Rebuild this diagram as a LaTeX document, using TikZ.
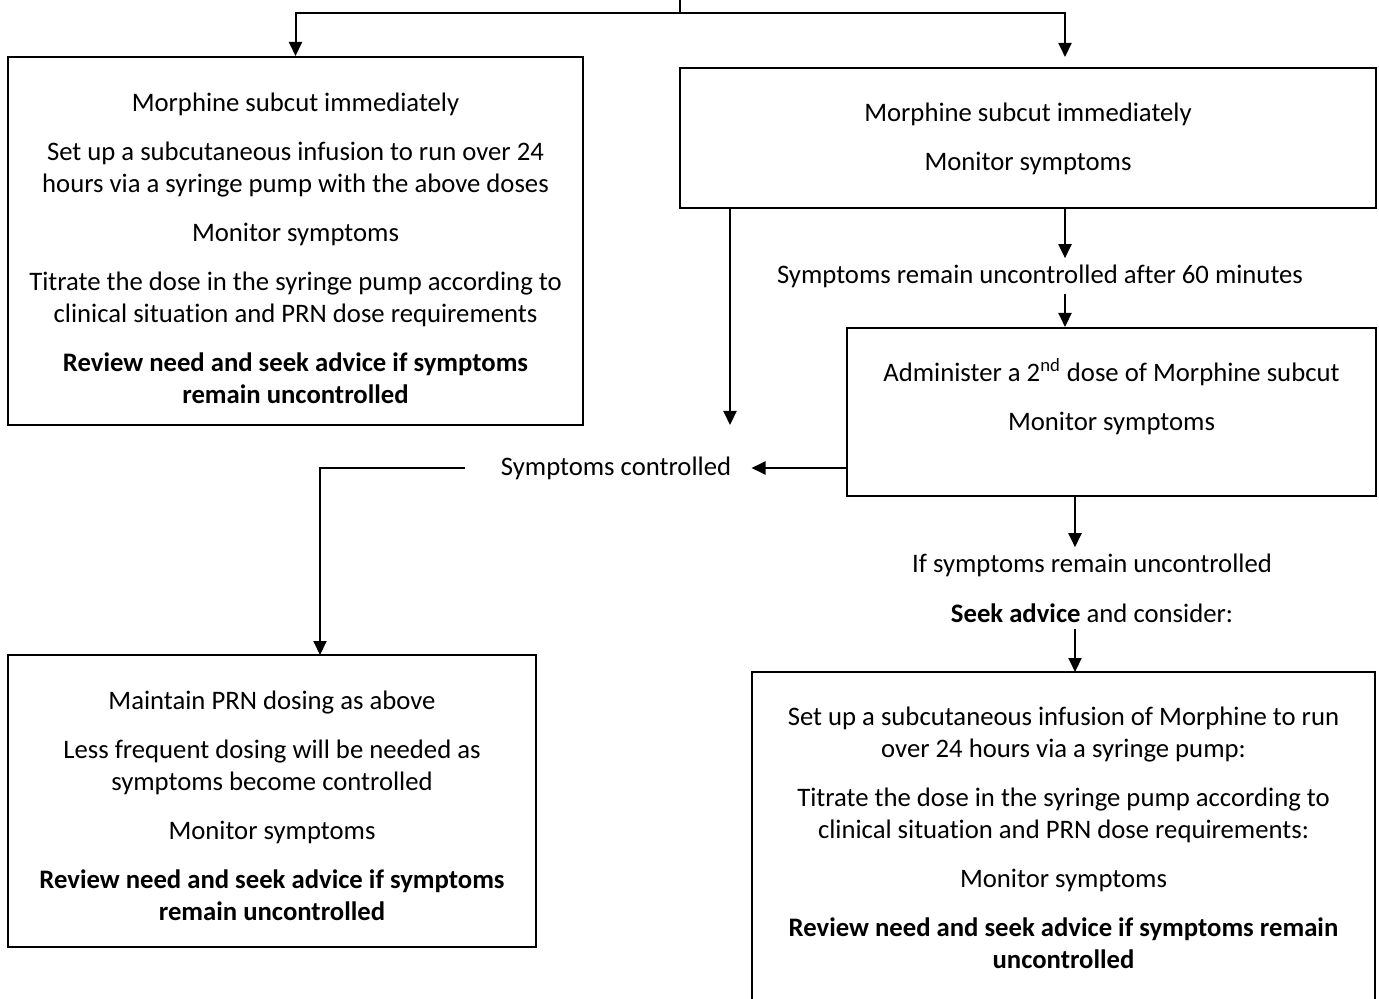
\documentclass[tikz,border=0pt]{standalone}
\usepackage{fontspec}
\setmainfont{Carlito}[Ligatures=NoCommon]
\usetikzlibrary{arrows.meta, positioning, fit, calc}
\tikzset{
  box/.style={rectangle, draw=black, line width=1pt, inner sep=0pt},
  boxtext/.style={align=flush center, inner sep=0pt, font=\fontsize{13.35}{16}\selectfont},
  flowtext/.style={align=center, inner sep=3pt, font=\fontsize{13.35}{16}\selectfont},
  arrow/.style={line width=1pt, -{Triangle[length=7pt,width=6.5pt]}},
  link/.style={line width=1pt}
}

\begin{document}
\begin{tikzpicture}[x=0.5pt, y=-0.5pt]
\useasboundingbox (0,0) rectangle (1379,999);
\clip (0,0) rectangle (1379,999);

% boxes
\node[box, fit={(8,57) (583,425)}] (a) {};
\node[box, fit={(680,68) (1376,208)}] (b) {};
\node[box, fit={(847,328) (1376,496)}] (c) {};
\node[box, fit={(8,655) (536,947)}] (d) {};
\node[box, fit={(752,672) (1375,1012)}] (e) {};

% box texts
\node[boxtext, text width=280pt, below=18.5pt of a.north] (at) {Morphine subcut immediately\\[8.5pt]
  Set up a subcutaneous infusion to run over 24\\hours via a syringe pump with the above doses\\[8.5pt]
  Monitor symptoms\\[8.5pt]
  Titrate the dose in the syringe pump according to\\clinical situation and PRN dose requirements\\[8.5pt]
  \bfseries Review need and seek advice if symptoms\\remain uncontrolled};
\node[boxtext, text width=300pt, below=18pt of b.north] (bt) {Morphine subcut immediately\\[8.5pt]
  Monitor symptoms};
\node[boxtext, text width=250pt, below=15.5pt of c.north] (ct) {Administer a 2\textsuperscript{nd} dose of Morphine subcut\\[8.5pt]
  Monitor symptoms};
\node[boxtext, text width=250pt, below=18.5pt of d.north] (dt) {Maintain PRN dosing as above\\[8.5pt]
  Less frequent dosing will be needed as\\symptoms become controlled\\[8.5pt]
  Monitor symptoms\\[8.5pt]
  \bfseries Review need and seek advice if symptoms\\remain uncontrolled};
\node[boxtext, text width=300pt, below=18pt of e.north] (et) {Set up a subcutaneous infusion of Morphine to run\\over 24 hours via a syringe pump:\\[8.5pt]
  Titrate the dose in the syringe pump according to\\clinical situation and PRN dose requirements:\\[8.5pt]
  Monitor symptoms\\[8.5pt]
  \bfseries Review need and seek advice if symptoms remain\\uncontrolled};

% free texts
\node[flowtext] (t1) at (1040,276) {Symptoms remain uncontrolled after 60 minutes};
\node[flowtext] (sc) at (616,468) {Symptoms controlled};
\node[flowtext] (t2) at (1092,588) {If symptoms remain uncontrolled\\[9pt]\textbf{Seek advice} and consider:};

% connector ends
\coordinate (top) at (680,0);
\coordinate (split) at (680,13);
\coordinate (bin) at (1065,57);
\coordinate (scin) at (730,425);
\coordinate (dtop) at (320,655);
\coordinate (eup) at (1075,672);

% connectors
\draw[link] (top) -- (split);
\draw[arrow] (split) -| (a.north);
\draw[arrow] (split) -| (bin);
\draw[arrow] (b.south -| scin) -- (scin);
\draw[arrow] (b.south -| bin) -- (t1.north -| bin);
\draw[arrow] (t1.south -| bin) -- (c.north -| bin);
\draw[arrow] (c.west |- sc) -- ([xshift=7pt]sc.east);
\draw[arrow] ([xshift=-14.5pt]sc.west) -| (dtop);
\draw[arrow] (c.south -| eup) -- (t2.north -| eup);
\draw[arrow] (t2.south -| eup) -- (eup);
\end{tikzpicture}
\end{document}
